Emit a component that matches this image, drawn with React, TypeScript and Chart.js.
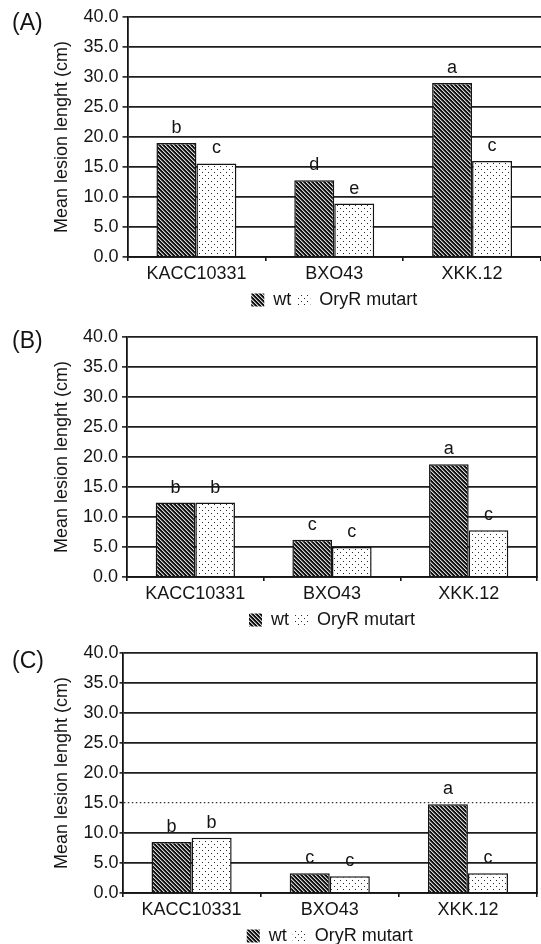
import React, { useEffect, useRef } from "react";
import { Chart, registerables } from "chart.js";

Chart.register(...registerables);

const categories = ["KACC10331", "BXO43", "XKK.12"];
const seriesNames = ["wt", "OryR mutart"];
const yTitle = "Mean lesion lenght (cm)";
const yMin = 0;
const yMax = 40;
const yStep = 5;

// Panel (A)
const wtA = [19.0, 12.8, 29.0];
const mutA = [15.6, 8.9, 16.0];
const wtLettersA = ["b", "d", "a"];
const mutLettersA = ["c", "e", "c"];

// Panel (B)
const wtB = [12.4, 6.2, 18.8];
const mutB = [12.4, 5.0, 7.8];
const wtLettersB = ["b", "c", "a"];
const mutLettersB = ["b", "c", "c"];

// Panel (C)
const wtC = [8.5, 3.3, 14.8];
const mutC = [9.2, 2.8, 3.3];
const wtLettersC = ["b", "c", "a"];
const mutLettersC = ["b", "c", "c"];

const FONT = "'Liberation Sans', Arial, Helvetica, sans-serif";
const INK = "#141414";

function makeHatch(ctx: CanvasRenderingContext2D): CanvasPattern {
  const c = document.createElement("canvas");
  c.width = 4;
  c.height = 4;
  const g = c.getContext("2d")!;
  g.fillStyle = "#101010";
  g.fillRect(0, 0, 4, 4);
  g.fillStyle = "#d6d6d6";
  for (let i = 0; i < 4; i++) g.fillRect(i, i, 1, 1);
  g.fillStyle = "#6a6a6a";
  for (let i = 0; i < 4; i++) g.fillRect((i + 1) % 4, i, 1, 1);
  return ctx.createPattern(c, "repeat")!;
}

function makeDots(ctx: CanvasRenderingContext2D): CanvasPattern {
  const c = document.createElement("canvas");
  c.width = 6;
  c.height = 6;
  const g = c.getContext("2d")!;
  g.fillStyle = "#ffffff";
  g.fillRect(0, 0, 6, 6);
  g.fillStyle = "#2a2a2a";
  g.fillRect(1, 1, 1, 1);
  g.fillRect(4, 4, 1, 1);
  return ctx.createPattern(c, "repeat")!;
}

const letterPlugin = {
  id: "barLetters",
  afterDatasetsDraw(chart: any) {
    const ctx = chart.ctx;
    ctx.save();
    ctx.font = `18px ${FONT}`;
    ctx.fillStyle = INK;
    ctx.textAlign = "center";
    ctx.textBaseline = "alphabetic";
    chart.data.datasets.forEach((ds: any, i: number) => {
      const meta = chart.getDatasetMeta(i);
      meta.data.forEach((el: any, j: number) => {
        const t = ds.letters ? ds.letters[j] : "";
        if (t) ctx.fillText(t, el.x, el.y - 10);
      });
    });
    ctx.restore();
  },
};

type PanelProps = {
  top: number;
  label: string;
  labelTop: number;
  wt: number[];
  mut: number[];
  wtLetters: string[];
  mutLetters: string[];
  axisWidth: number;
  tickLen: number;
  tickPad: number;
  rightPad: number;
  rightBorder: boolean;
  dotted15: boolean;
};

function Panel(p: PanelProps) {
  const ref = useRef<HTMLCanvasElement | null>(null);
  useEffect(() => {
    const canvas = ref.current!;
    const ctx = canvas.getContext("2d")!;
    const hatch = makeHatch(ctx);
    const dots = makeDots(ctx);
    const is15 = (c: any) => p.dotted15 && c.tick && c.tick.value === 15;
    const scales: any = {
      x: {
        type: "category",
        offset: true,
        grid: {
          display: true,
          drawOnChartArea: false,
          drawTicks: true,
          tickLength: 4,
          color: INK,
          lineWidth: 1.6,
          offset: true,
        },
        border: { display: true, color: INK, width: 1.8 },
        ticks: { padding: 2, color: INK, font: { family: FONT, size: 18 } },
        afterFit: (s: any) => {
          s.height = 28;
        },
      },
      y: {
        type: "linear",
        position: "left",
        min: yMin,
        max: yMax,
        ticks: {
          stepSize: yStep,
          padding: p.tickPad,
          color: INK,
          font: { family: FONT, size: 18 },
          callback: (v: any) => Number(v).toFixed(1),
        },
        grid: {
          color: (c: any) => (is15(c) ? "#333" : "#1e1e1e"),
          lineWidth: (c: any) => (is15(c) ? 1.2 : 1.8),
          tickColor: INK,
          tickLength: p.tickLen,
          tickWidth: 1.5,
          drawTicks: true,
        },
        border: {
          display: true,
          color: INK,
          width: 1.8,
          dash: (c: any) => (is15(c) ? [1.5, 2.5] : []),
        },
        title: {
          display: true,
          text: yTitle,
          color: INK,
          font: { family: FONT, size: 18 },
          padding: { top: 1, bottom: 0 },
        },
        afterFit: (s: any) => {
          s.width = p.axisWidth;
        },
      },
    };
    if (p.rightBorder) {
      scales.yr = {
        type: "linear",
        position: "right",
        min: yMin,
        max: yMax,
        ticks: { display: false },
        grid: { display: false, drawTicks: false },
        border: { display: true, color: INK, width: 1.8 },
        afterFit: (s: any) => {
          s.width = 0;
        },
      };
    }
    const chart = new Chart(canvas, {
      type: "bar",
      data: {
        labels: categories,
        datasets: [
          {
            label: seriesNames[0],
            data: p.wt,
            backgroundColor: hatch as any,
            borderColor: INK,
            borderWidth: 1.5,
            barPercentage: 1,
            categoryPercentage: 0.58,
            letters: p.wtLetters,
          } as any,
          {
            label: seriesNames[1],
            data: p.mut,
            backgroundColor: dots as any,
            borderColor: INK,
            borderWidth: 1.5,
            barPercentage: 1,
            categoryPercentage: 0.58,
            letters: p.mutLetters,
          } as any,
        ],
      },
      options: {
        responsive: false,
        animation: false,
        devicePixelRatio: 1,
        layout: { padding: { left: 50, top: 17, right: p.rightPad, bottom: 0 } },
        scales,
        plugins: {
          tooltip: { enabled: false },
          legend: {
            display: true,
            position: "bottom",
            fullSize: false,
            labels: {
              boxWidth: 13,
              boxHeight: 13,
              padding: 6,
              color: INK,
              font: { family: FONT, size: 18 },
              generateLabels: (ch: any) =>
                ch.data.datasets.map((ds: any, i: number) => ({
                  text: ds.label,
                  fillStyle: ds.backgroundColor,
                  strokeStyle: "rgba(0,0,0,0)",
                  lineWidth: 0,
                  hidden: false,
                  datasetIndex: i,
                  fontColor: INK,
                })),
            },
          },
        },
      },
      plugins: [letterPlugin],
    });
    return () => chart.destroy();
  }, []);

  return (
    <>
      <canvas
        ref={ref}
        width={541}
        height={319}
        style={{ position: "absolute", left: 0, top: p.top, display: "block" }}
      />
      <div
        style={{
          position: "absolute",
          left: 12,
          top: p.top + p.labelTop,
          fontFamily: FONT,
          fontSize: 23,
          lineHeight: "23px",
          color: INK,
          whiteSpace: "nowrap",
        }}
      >
        {p.label}
      </div>
    </>
  );
}

export default function App() {
  return (
    <div
      style={{
        position: "absolute",
        left: 0,
        top: 0,
        width: 541,
        height: 944,
        overflow: "hidden",
        background: "#ffffff",
      }}
    >
      <Panel
        top={0}
        label="(A)"
        labelTop={10.5}
        wt={wtA}
        mut={mutA}
        wtLetters={wtLettersA}
        mutLetters={mutLettersA}
        axisWidth={77.5}
        tickLen={5}
        tickPad={4}
        rightPad={0}
        rightBorder={false}
        dotted15={false}
      />
      <Panel
        top={320}
        label="(B)"
        labelTop={9}
        wt={wtB}
        mut={mutB}
        wtLetters={wtLettersB}
        mutLetters={mutLettersB}
        axisWidth={77}
        tickLen={5}
        tickPad={4}
        rightPad={4}
        rightBorder={true}
        dotted15={false}
      />
      <Panel
        top={636}
        label="(C)"
        labelTop={13}
        wt={wtC}
        mut={mutC}
        wtLetters={wtLettersC}
        mutLetters={mutLettersC}
        axisWidth={72.5}
        tickLen={3}
        tickPad={1}
        rightPad={4}
        rightBorder={true}
        dotted15={true}
      />
    </div>
  );
}
